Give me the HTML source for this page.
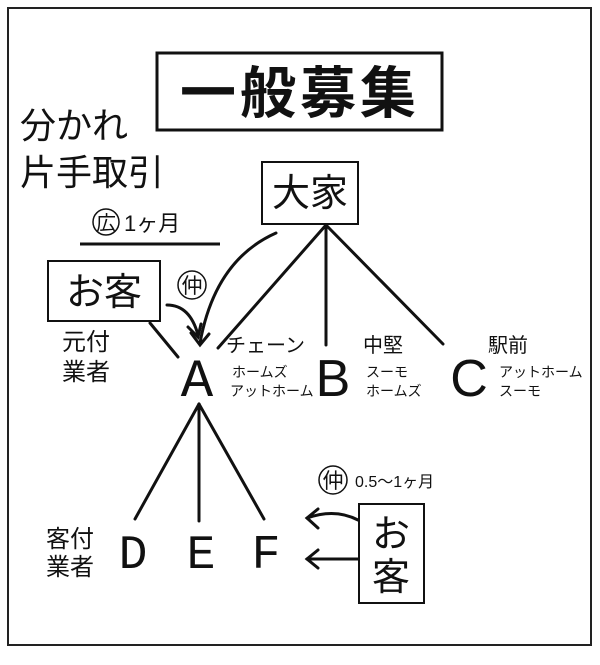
<!DOCTYPE html>
<html><head><meta charset="utf-8"><style>
body{margin:0;width:600px;height:660px;background:#fff;overflow:hidden}
svg text{font-family:"Liberation Sans","Noto Sans CJK JP",sans-serif;fill:#111}
svg text.m{font-family:"Liberation Mono",monospace}
</style></head><body>
<svg width="600" height="660" viewBox="0 0 600 660" xmlns="http://www.w3.org/2000/svg">
<rect x="8" y="8" width="583" height="637" fill="none" stroke="#222" stroke-width="2"/>
<rect x="157" y="53" width="285" height="77" fill="none" stroke="#111" stroke-width="3"/>
<text x="300" y="113" font-size="56" font-weight="bold" text-anchor="middle" letter-spacing="4">一般募集</text>
<text x="20" y="138" font-size="36">分かれ</text>
<text x="20" y="185" font-size="36">片手取引</text>
<rect x="262" y="162" width="96" height="62" fill="none" stroke="#111" stroke-width="2"/>
<text x="310" y="206" font-size="38" text-anchor="middle">大家</text>
<circle cx="106" cy="222" r="13" fill="none" stroke="#111" stroke-width="1.5"/>
<text x="106" y="230" font-size="20" text-anchor="middle">広</text>
<text x="124" y="231" font-size="22">1ヶ月</text>
<line x1="80" y1="244" x2="220" y2="244" stroke="#111" stroke-width="3"/>
<rect x="48" y="261" width="112" height="60" fill="none" stroke="#111" stroke-width="2"/>
<text x="104" y="305" font-size="38" text-anchor="middle">お客</text>
<circle cx="192" cy="285" r="14" fill="none" stroke="#111" stroke-width="1.5"/>
<text x="192" y="293" font-size="21" text-anchor="middle">仲</text>
<g stroke="#111" stroke-width="3" fill="none" stroke-linecap="round">
<path d="M276 233 Q215 260 200 343"/>
<path d="M191 333 L200 345 L209 334"/>
<path d="M167 305 Q190 305 198 335"/>
<path d="M188 327 L198 337 L201 324"/>
<line x1="326" y1="225" x2="218" y2="348"/>
<line x1="326" y1="225" x2="326" y2="345"/>
<line x1="326" y1="225" x2="443" y2="344"/>
<line x1="150" y1="323" x2="178" y2="357"/>
<line x1="199" y1="404" x2="135" y2="519"/>
<line x1="199" y1="404" x2="199" y2="521"/>
<line x1="199" y1="404" x2="264" y2="519"/>
<path d="M358 520 Q335 508 307 518"/>
<path d="M318 509 L307 518 L318 528"/>
<line x1="358" y1="559" x2="307" y2="559"/>
<path d="M318 550 L307 559 L318 568"/>
</g>
<text x="62" y="350" font-size="24">元付</text>
<text x="62" y="380" font-size="24">業者</text>
<text x="197" y="396" font-size="54" text-anchor="middle" class="m">A</text>
<text x="226" y="352" font-size="20">チェーン</text>
<text x="232" y="377" font-size="14">ホームズ</text>
<text x="230" y="396" font-size="14">アットホーム</text>
<text x="333" y="396" font-size="52" text-anchor="middle">B</text>
<text x="363" y="352" font-size="20">中堅</text>
<text x="366" y="377" font-size="14">スーモ</text>
<text x="366" y="396" font-size="14">ホームズ</text>
<text x="469" y="396" font-size="52" text-anchor="middle">C</text>
<text x="488" y="352" font-size="20">駅前</text>
<text x="499" y="377" font-size="14">アットホーム</text>
<text x="499" y="396" font-size="14">スーモ</text>
<text x="46" y="547" font-size="24">客付</text>
<text x="46" y="575" font-size="24">業者</text>
<text x="133" y="568" font-size="48" text-anchor="middle" class="m">D</text>
<text x="201" y="568" font-size="48" text-anchor="middle" class="m">E</text>
<text x="266" y="568" font-size="48" text-anchor="middle" class="m">F</text>
<circle cx="333" cy="480" r="14" fill="none" stroke="#111" stroke-width="1.5"/>
<text x="333" y="488" font-size="21" text-anchor="middle">仲</text>
<text x="355" y="487" font-size="16">0.5～1ヶ月</text>
<rect x="359" y="504" width="65" height="99" fill="none" stroke="#111" stroke-width="2"/>
<text x="391" y="547" font-size="38" text-anchor="middle">お</text>
<text x="391" y="590" font-size="38" text-anchor="middle">客</text>
</svg>
</body></html>
